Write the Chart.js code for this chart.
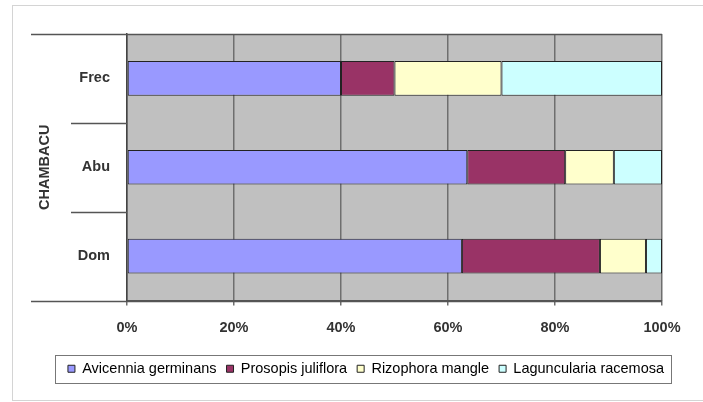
<!DOCTYPE html>
<html>
<head>
<meta charset="utf-8">
<script src="https://cdn.jsdelivr.net/npm/chart.js@4/dist/chart.umd.min.js"></script>
<style>
  html, body { margin: 0; padding: 0; background: #fff; }
  #wrap { width: 703px; height: 402px; position: relative; }
</style>
</head>
<body>
<div id="wrap"><canvas id="myChart" width="703" height="402"></canvas></div>
<script>
// categorie (dall'alto verso il basso) e specie
const sites = ['Frec', 'Abu', 'Dom'];
const groupName = 'CHAMBACU';
const species = ['Avicennia germinans', 'Prosopis juliflora', 'Rizophora mangle', 'Laguncularia racemosa'];
const avicennia = [40, 63.6, 62.6];
const prosopis = [10, 18.3, 25.8];
const rizophora = [20, 9.1, 8.6];
const laguncularia = [30, 9.0, 3.0];
const xTicks = [0, 20, 40, 60, 80, 100];
const colors = ['#9999ff', '#993366', '#ffffcc', '#ccffff'];

let myChart;

// sfondo, cornice, linee dell'asse categorie, titolo gruppo e riquadro legenda
const decorPlugin = {
    id: 'decor',
    beforeDraw(chart) {
        const ctx = chart.ctx;
        const a = chart.chartArea;
        ctx.save();
        ctx.fillStyle = '#fff';
        ctx.fillRect(0, 0, chart.width, chart.height);
        ctx.strokeStyle = '#d4d4d4';
        ctx.lineWidth = 1;
        ctx.strokeRect(12.5, 5.5, chart.width, 395);
        ctx.fillStyle = '#c0c0c0';
        ctx.fillRect(a.left, a.top, a.right - a.left, a.bottom - a.top);
        ctx.restore();
    },
    afterDraw(chart) {
        const ctx = chart.ctx;
        const a = chart.chartArea;
        const band = (a.bottom - a.top) / sites.length;
        ctx.save();
        ctx.strokeStyle = '#555';
        ctx.lineWidth = 1.5;
        // linee di separazione delle categorie
        for (let i = 0; i <= sites.length; i++) {
            const py = Math.round(a.top + i * band) + 0.5;
            const outer = (i === 0 || i === sites.length);
            ctx.beginPath();
            ctx.moveTo(outer ? 31 : 71, py);
            ctx.lineTo(outer ? a.right : a.left, py);
            ctx.stroke();
        }
        // titolo del gruppo
        ctx.fillStyle = '#333';
        ctx.font = 'bold 14.5px Arial, "Liberation Sans", sans-serif';
        ctx.textAlign = 'center';
        ctx.textBaseline = 'middle';
        ctx.translate(45, (a.top + a.bottom) / 2);
        ctx.rotate(-Math.PI / 2);
        ctx.fillText(groupName, 0, 0);
        ctx.restore();

        // riquadro legenda
        const boxes = chart.legend.legendHitBoxes;
        if (boxes && boxes.length) {
            let minX = Infinity, maxX = -Infinity, minY = Infinity, maxY = -Infinity;
            boxes.forEach(b => {
                minX = Math.min(minX, b.left);
                maxX = Math.max(maxX, b.left + b.width);
                minY = Math.min(minY, b.top);
                maxY = Math.max(maxY, b.top + b.height);
            });
            ctx.save();
            ctx.strokeStyle = '#777';
            ctx.lineWidth = 1;
            ctx.strokeRect(Math.round(minX - 13) + 0.5, Math.round(minY - 7) + 0.5,
                Math.round(maxX - minX + 20), Math.round(maxY - minY + 13));
            ctx.restore();
        }
    }
};

function createChart() {
    const ctx = document.getElementById('myChart').getContext('2d');
    const series = [avicennia, prosopis, rizophora, laguncularia];
    myChart = new Chart(ctx, {
        type: 'bar',
        data: {
            labels: sites,
            datasets: species.map((name, i) => ({
                label: name,
                data: series[i],
                yAxisID: 'y',
                backgroundColor: colors[i],
                borderColor: '#222',
                borderWidth: 1,
                borderSkipped: false,
                categoryPercentage: 1,
                barPercentage: 0.39
            }))
        },
        options: {
            indexAxis: 'y',
            responsive: false,
            animation: false,
            devicePixelRatio: 1,
            layout: {
                padding: { left: 43, top: 34, right: 14, bottom: 16 }
            },
            scales: {
                x: {
                    stacked: true,
                    min: 0,
                    max: 100,
                    afterBuildTicks: (scale) => {
                        scale.ticks = xTicks.map(v => ({ value: v }));
                    },
                    afterFit: (scale) => { scale.height = 51; },
                    ticks: {
                        callback: (v) => v + '%',
                        color: '#333',
                        padding: 14,
                        maxRotation: 0,
                        font: { family: 'Arial, "Liberation Sans", sans-serif', size: 14.5, weight: 'bold' }
                    },
                    grid: {
                        color: '#6e6e6e',
                        lineWidth: 1.5,
                        tickLength: 5,
                        drawTicks: true
                    },
                    border: { display: true, color: '#555', width: 1.5 }
                },
                y: {
                    stacked: true,
                    afterFit: (scale) => { scale.width = 84; },
                    ticks: {
                        color: '#333',
                        padding: 17,
                        font: { family: 'Arial, "Liberation Sans", sans-serif', size: 14.5, weight: 'bold' }
                    },
                    grid: { display: false, drawTicks: false },
                    border: { display: true, color: '#444', width: 1.5 }
                },
                // asse vuoto a destra: serve solo a lasciare spazio
                yRight: {
                    type: 'linear',
                    axis: 'y',
                    position: 'right',
                    afterFit: (scale) => { scale.width = 27; },
                    ticks: { display: false },
                    grid: { display: false, drawTicks: false },
                    border: { display: false }
                }
            },
            plugins: {
                tooltip: { enabled: false },
                legend: {
                    display: true,
                    position: 'bottom',
                    labels: {
                        boxWidth: 7,
                        boxHeight: 7,
                        padding: 10,
                        color: '#444',
                        useBorderRadius: false,
                        font: { family: 'Arial, "Liberation Sans", sans-serif', size: 14.5 },
                        generateLabels: (chart) => chart.data.datasets.map((ds, i) => ({
                            text: ds.label,
                            fillStyle: ds.backgroundColor,
                            strokeStyle: '#222',
                            lineWidth: 1,
                            datasetIndex: i
                        }))
                    }
                }
            }
        },
        plugins: [decorPlugin]
    });
}

window.onload = function () {
    createChart();
}
</script>
</body>
</html>
